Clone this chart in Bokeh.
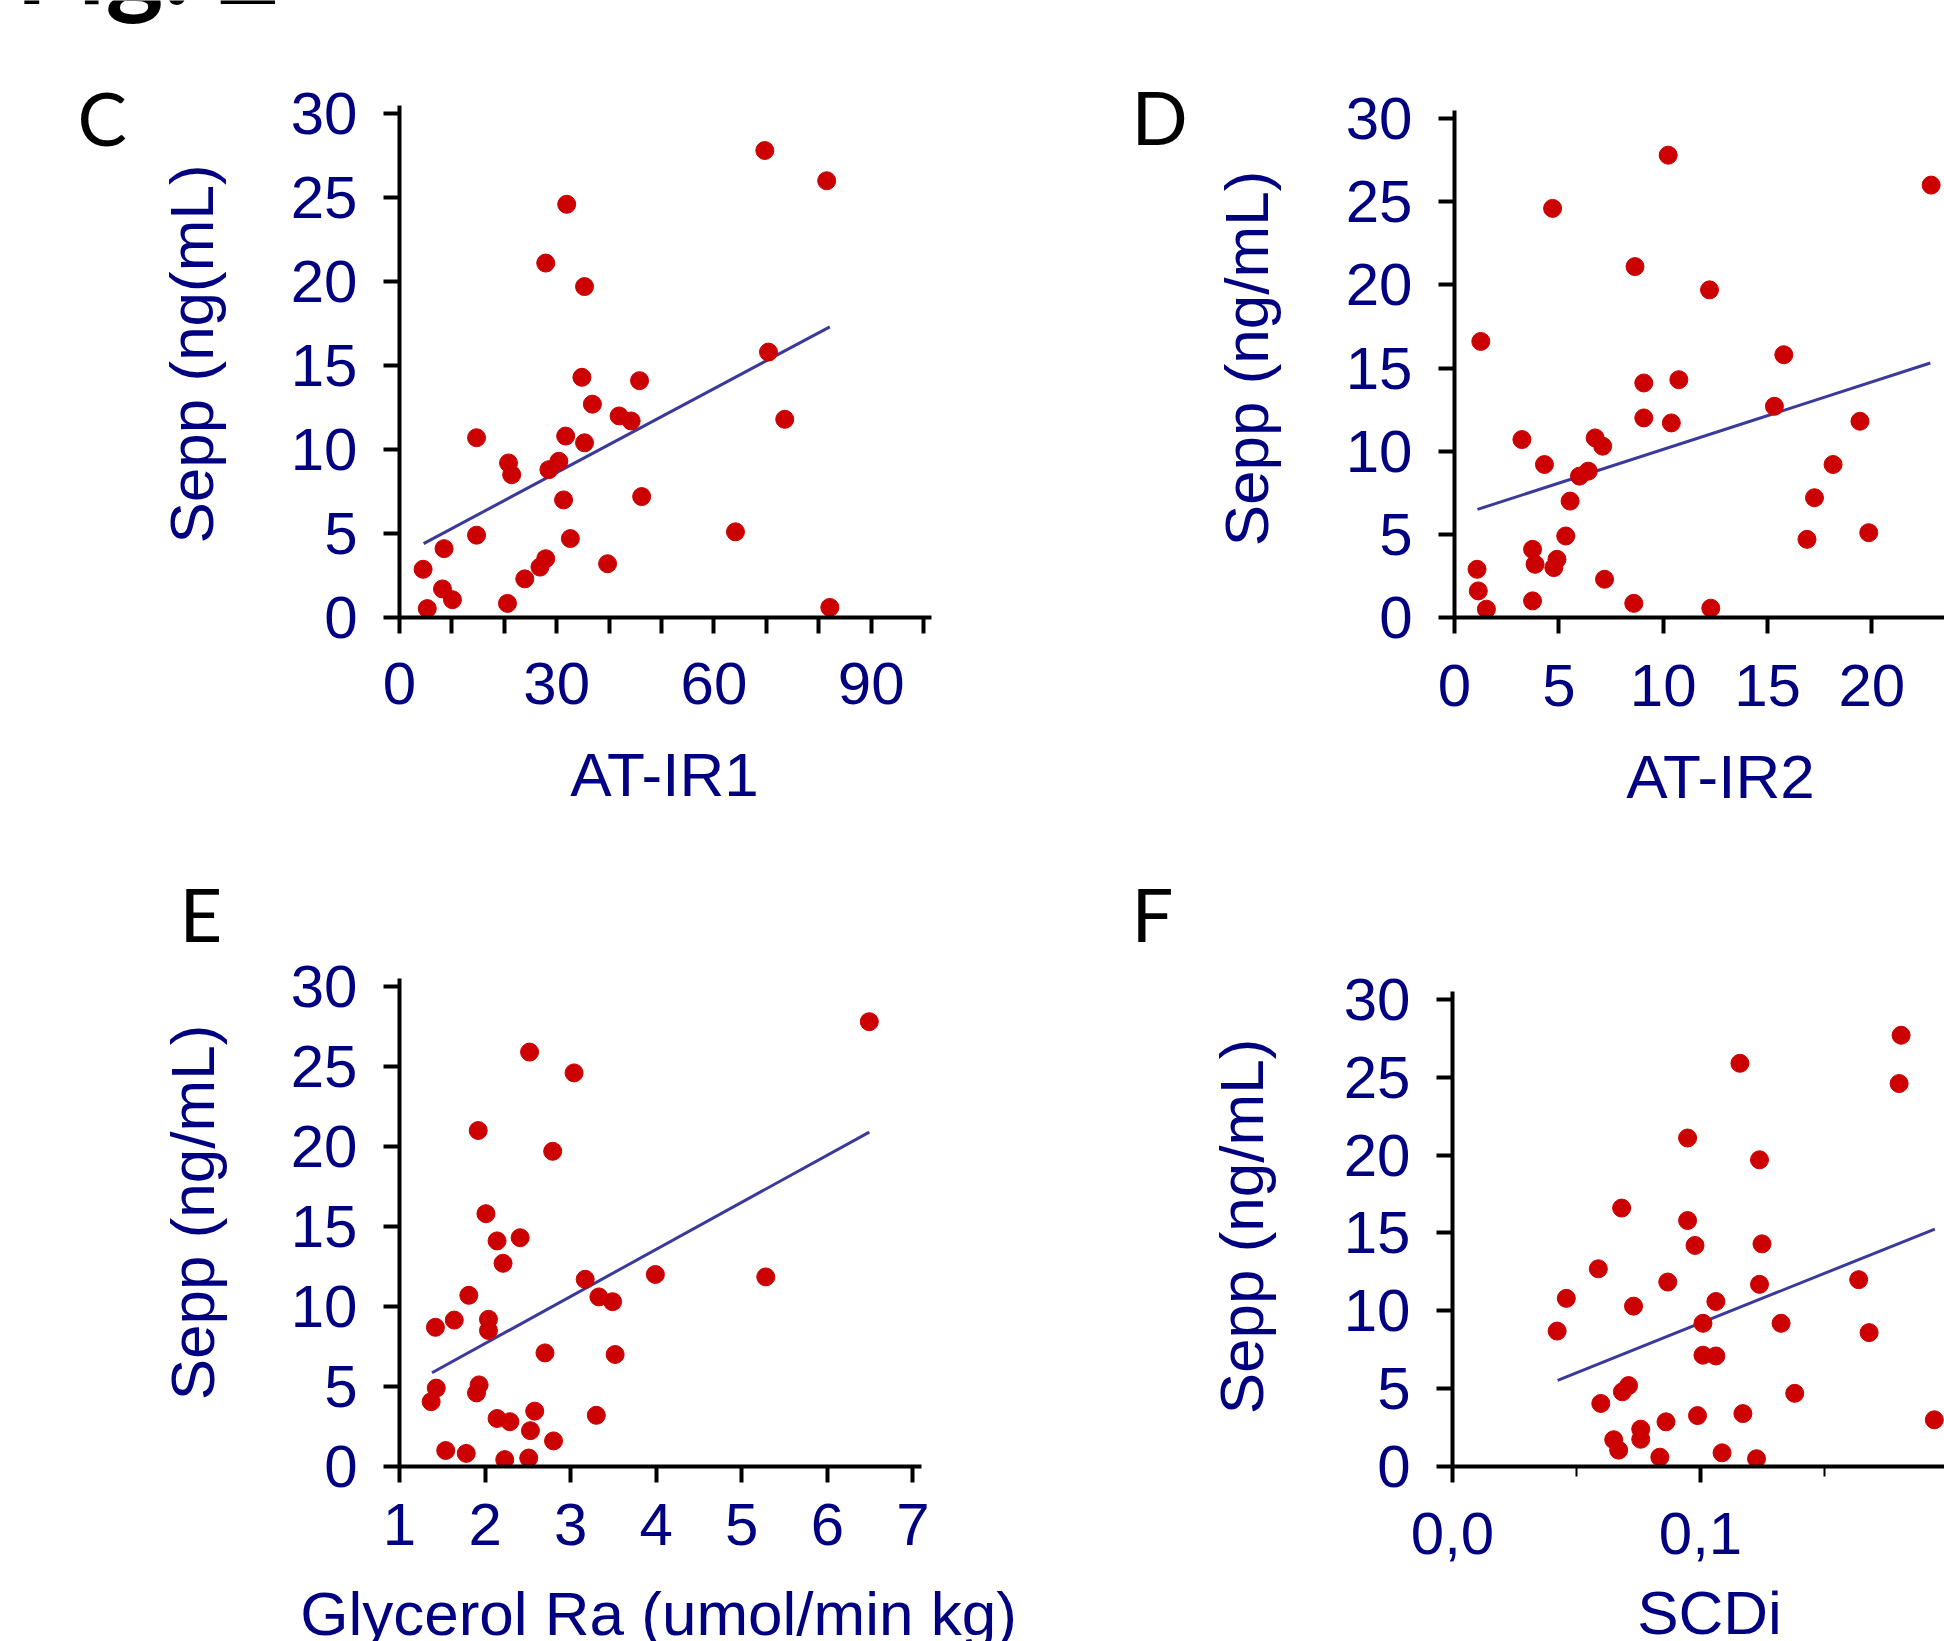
import math
from bokeh.plotting import figure
from bokeh.models import FixedTicker, Range1d, CustomJSTickFormatter
from bokeh.layouts import column, row
from bokeh.core.properties import value
from bokeh.embed import file_html
from bokeh.resources import INLINE

# ---------------- data ----------------
y_ticks = [0, 5, 10, 15, 20, 25, 30]

# Panel C: AT-IR1 vs Sepp
c_x = [4.5, 5.3, 8.5, 8.2, 10.1, 14.7, 14.7, 20.6, 20.8, 21.4, 23.9, 26.8, 27.9, 27.9,
       28.5, 30.4, 31.3, 31.9, 31.7, 32.6, 35.3, 34.8, 35.3, 36.8, 39.7, 41.9, 44.2,
       45.8, 46.2, 64.1, 69.7, 70.4, 73.5, 81.5, 82.1]
c_y = [2.87, 0.53, 4.1, 1.7, 1.06, 10.7, 4.9, 0.84, 9.2, 8.5, 2.3, 3.0, 3.5, 21.1,
       8.8, 9.3, 7.0, 24.6, 10.8, 4.7, 10.4, 14.3, 19.7, 12.7, 3.2, 12.0, 11.7,
       14.1, 7.2, 5.1, 27.8, 15.8, 11.8, 26.0, 0.6]
c_fit_x = [4.6, 82.1]
c_fit_y = [4.4, 17.3]
c_xticks = [0, 10, 20, 30, 40, 50, 60, 70, 80, 90, 100]

# Panel D: AT-IR2 vs Sepp
d_x = [1.26, 1.08, 1.14, 1.53, 3.23, 3.74, 3.86, 3.74, 4.31, 4.70, 4.76, 4.91, 5.33,
       5.54, 5.99, 6.41, 6.74, 7.10, 7.19, 8.59, 8.65, 9.07, 9.07, 10.24, 10.39, 10.75,
       12.22, 12.28, 15.33, 15.78, 16.89, 17.25, 18.14, 19.43, 19.85, 22.84]
d_y = [16.6, 2.9, 1.6, 0.5, 10.7, 4.1, 3.2, 1.0, 9.2, 24.6, 3.0, 3.5, 4.9, 7.0, 8.5,
       8.8, 10.8, 10.3, 2.3, 0.85, 21.1, 14.1, 12.0, 27.8, 11.7, 14.3, 19.7, 0.56,
       12.7, 15.8, 4.7, 7.2, 9.2, 11.8, 5.1, 26.0]
d_fit_x = [1.1, 22.8]
d_fit_y = [6.5, 15.3]
d_xticks = [0, 5, 10, 15, 20, 25]

# Panel E: Glycerol Ra vs Sepp
e_x = [1.42, 1.43, 1.37, 1.54, 1.64, 1.78, 1.81, 1.92, 1.93, 1.90, 2.01, 2.04, 2.04,
       2.14, 2.14, 2.21, 2.23, 2.29, 2.41, 2.52, 2.53, 2.51, 2.58, 2.70, 2.79, 2.80,
       3.04, 3.17, 3.30, 3.33, 3.49, 3.52, 3.99, 5.28, 6.49]
e_y = [8.7, 4.9, 4.05, 1.0, 9.15, 0.82, 10.7, 21.0, 5.1, 4.6, 15.8, 9.2, 8.5, 14.1,
       3.0, 12.7, 0.43, 2.8, 14.3, 25.9, 2.24, 0.53, 3.46, 7.1, 19.7, 1.6, 24.6, 11.7,
       3.2, 10.6, 10.3, 7.0, 12.0, 11.85, 27.8]
e_fit_x = [1.38, 6.49]
e_fit_y = [5.86, 20.9]
e_xticks = [1, 2, 3, 4, 5, 6, 7]

# Panel F: SCDi vs Sepp
f_x = [0.0422, 0.0459, 0.0588, 0.0598, 0.0650, 0.0670, 0.0682, 0.0685, 0.0710, 0.0730,
       0.0759, 0.0759, 0.0836, 0.0861, 0.0868, 0.0948, 0.0948, 0.0978, 0.0988, 0.1010,
       0.1010, 0.1062, 0.1062, 0.1087, 0.1159, 0.1171, 0.1226, 0.1238, 0.1248, 0.1238,
       0.1325, 0.1380, 0.1638, 0.1680, 0.1801, 0.1809, 0.1943]
f_y = [8.7, 10.8, 12.7, 4.05, 1.72, 1.05, 16.6, 4.8, 5.2, 10.3, 2.4, 1.75, 0.6, 2.87,
       11.85, 21.1, 15.8, 14.2, 3.27, 9.2, 7.15, 7.1, 10.6, 0.88, 25.9, 3.4, 0.5, 19.7,
       14.3, 11.7, 9.2, 4.7, 12.0, 8.6, 24.6, 27.7, 3.0]
f_fit_x = [0.0424, 0.1945]
f_fit_y = [5.53, 15.25]
f_xticks = [0.0, 0.1, 0.2]
f_xminor = [0.05, 0.15]

# texts
fig_title = "Fig. 2"
letters = ["C", "D", "E", "F"]
y_titles = ["Sepp (ng(mL)", "Sepp (ng/mL)", "Sepp (ng/mL)", "Sepp (ng/mL)"]
x_titles = ["AT-IR1", "AT-IR2", "Glycerol Ra (umol/min kg)", "SCDi"]

# ---------------- style ----------------
NAVY = "#000080"
RED = "#cc0000"
FIT = "#3a3a9c"
TICK_FONT = "Liberation Sans"
LETTER_FONT = "Lato"


def holder(w, h, bt, bb, x0, x1, y_bottom, y_top):
    """Text holder; its frame is given in page pixels (y downward)."""
    p = figure(width=w, height=h, x_range=Range1d(x0, x1), y_range=Range1d(y_bottom, y_top),
               output_backend="svg", toolbar_location=None, title=None,
               x_axis_type=None, y_axis_type=None,
               min_border_left=0, min_border_right=0,
               min_border_top=bt, min_border_bottom=bb)
    p.outline_line_color = None
    p.background_fill_color = "white"
    p.border_fill_color = "white"
    return p


def put(p, text, x, y, size, font=TICK_FONT, color=NAVY, angle=0.0,
        align="center", style="normal"):
    p.text(x=[x], y=[y], text=[text], text_font=value(font),
           text_font_size=value(f"{size}px"), text_color=color, angle=angle,
           text_align=value(align), text_baseline=value("middle"),
           text_font_style=value(style))


def make_panel(w, h, bl, br, bt, bb, xr, yr, ybounds, x_standoff):
    p = figure(width=w, height=h, x_range=Range1d(*xr), y_range=Range1d(*yr),
               output_backend="svg", toolbar_location=None, title=None,
               min_border_left=bl, min_border_right=br,
               min_border_top=bt, min_border_bottom=bb)
    p.outline_line_color = None
    p.grid.visible = False
    p.background_fill_color = "white"
    p.border_fill_color = "white"
    for ax in (p.xaxis[0], p.yaxis[0]):
        ax.axis_line_width = 4
        ax.axis_line_color = "black"
        ax.major_tick_line_width = 4
        ax.major_tick_line_color = "black"
        ax.major_tick_out = 16
        ax.major_tick_in = 0
        ax.minor_tick_out = 0
        ax.minor_tick_in = 0
        ax.major_label_text_font = TICK_FONT
        ax.major_label_text_font_size = "60px"
        ax.major_label_text_color = NAVY
    p.xaxis.major_label_standoff = x_standoff
    p.yaxis.major_label_standoff = 26
    p.yaxis.ticker = FixedTicker(ticks=y_ticks)
    p.yaxis.bounds = ybounds
    return p


def draw(p, xs, ys, fx, fy):
    p.line(fx, fy, line_color=FIT, line_width=3)
    p.scatter(xs, ys, size=18, fill_color=RED, line_color=RED)


# ---- top row (page y 0..736, common frame y 0..617) ----
side_c = holder(275, 736, 0, 119, 0, 275, 617, 0)
put(side_c, fig_title, 15, -40.0, 110, font=LETTER_FONT, color="black", align="left", style="bold")
put(side_c, letters[0], 77, 117.4, 74, font=LETTER_FONT, color="black", align="left")
put(side_c, y_titles[0], 190.8, 353.5, 62, angle=math.pi / 2)

pc = make_panel(697, 736, 124, 41, 0, 119, (0, 101.5), (0, 36.73), (0, 30.48), 29)
pc.xaxis.ticker = FixedTicker(ticks=c_xticks)
pc.xaxis.formatter = CustomJSTickFormatter(code="return (tick % 30 === 0) ? tick.toFixed(0) : '';")
draw(pc, c_x, c_y, c_fit_x, c_fit_y)

side_d = holder(318, 736, 0, 119, 972, 1290, 617, 0)
put(side_d, letters[1], 1131, 116.4, 74, font=LETTER_FONT, color="black", align="left")
put(side_d, y_titles[1], 1246, 358, 62, angle=math.pi / 2)

pd_ = make_panel(654, 736, 164, 0, 0, 119, (0, 23.48), (0, 37.10), (0, 30.5), 31)
pd_.xaxis.ticker = FixedTicker(ticks=d_xticks)
draw(pd_, d_x, d_y, d_fit_x, d_fit_y)

# ---- strip with the x titles of the top row (page y 736..820) ----
strip1 = holder(1944, 84, 0, 0, 0, 1944, 820, 736)
put(strip1, x_titles[0], 664, 774, 62)
put(strip1, x_titles[1], 1720, 776, 62)

# ---- bottom row (page y 820..1590, common frame y 880..1466) ----
side_e = holder(275, 770, 60, 124, 0, 275, 1466, 880)
put(side_e, letters[2], 179, 913.4, 74, font=LETTER_FONT, color="black", align="left")
put(side_e, y_titles[2], 192.3, 1212, 62, angle=math.pi / 2)

pe = make_panel(745, 770, 124, 99, 60, 124, (1, 7.1), (0, 36.625), (0, 30.53), 21)
pe.xaxis.ticker = FixedTicker(ticks=e_xticks)
draw(pe, e_x, e_y, e_fit_x, e_fit_y)

side_f = holder(270, 770, 60, 124, 1020, 1290, 1466, 880)
put(side_f, letters[3], 1131, 913.4, 74, font=LETTER_FONT, color="black", align="left")
put(side_f, y_titles[3], 1241, 1226, 62, angle=math.pi / 2)

pf = make_panel(654, 770, 162, 0, 60, 124, (0, 0.1984), (0, 37.64), (0, 30.53), 30)
pf.xaxis.ticker = FixedTicker(ticks=f_xticks, minor_ticks=f_xminor)
pf.xaxis.minor_tick_out = 10
pf.xaxis.minor_tick_line_width = 2
pf.xaxis.minor_tick_line_color = "black"
pf.xaxis.formatter = CustomJSTickFormatter(code="return tick.toFixed(1).replace('.', ',');")
draw(pf, f_x, f_y, f_fit_x, f_fit_y)

# ---- strip with the x titles of the bottom row (page y 1590..1641) ----
strip2 = holder(1944, 51, 0, 0, 0, 1944, 1641, 1590)
put(strip2, x_titles[2], 658, 1613, 62)
put(strip2, x_titles[3], 1709, 1612, 62)

layout = column(row(side_c, pc, side_d, pd_), strip1,
                row(side_e, pe, side_f, pf), strip2)

open("out.html", "w").write(file_html(layout, INLINE))
